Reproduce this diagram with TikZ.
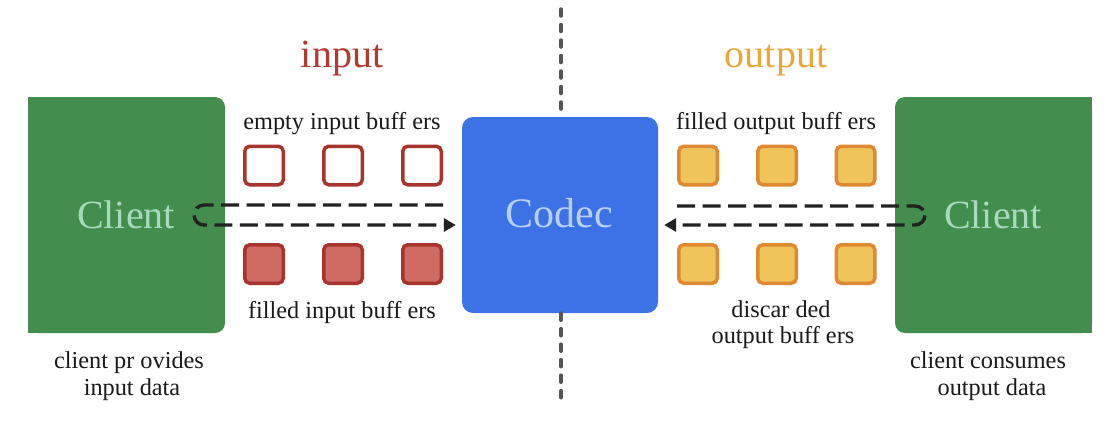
\documentclass[tikz,border=0pt]{standalone}
\usepackage{fontspec}
\setmainfont{Liberation Serif}
\usetikzlibrary{arrows.meta}
\definecolor{cgreen}{HTML}{438D4F}
\definecolor{cblue}{HTML}{3D71E6}
\definecolor{ctxtgreen}{HTML}{A8DABD}
\definecolor{ctxtblue}{HTML}{B9CFF8}
\definecolor{redline}{HTML}{A8352B}
\definecolor{redfill}{HTML}{D06B63}
\definecolor{orline}{HTML}{E08933}
\definecolor{orfill}{HTML}{EFC55B}
\definecolor{titlered}{HTML}{B23A30}
\definecolor{titleor}{HTML}{E9A83B}
\definecolor{flowc}{HTML}{222222}
\definecolor{divc}{HTML}{555555}
\definecolor{txt}{HTML}{1A1A1A}
\begin{document}
\begin{tikzpicture}[x=1pt,y=-1pt,
  bigbox/.style={minimum width=197pt,minimum height=236pt,inner sep=0pt,fill=cgreen,rounded corners=10pt},
  clienttxt/.style={text=ctxtgreen,font=\fontsize{40}{44}\selectfont,anchor=base},
  codecbox/.style={minimum width=196pt,minimum height=196pt,inner sep=0pt,fill=cblue,rounded corners=11pt},
  buf/.style={minimum size=38.5pt,inner sep=0pt,line width=3.5pt,rounded corners=5pt},
  inempty/.style={buf,draw=redline,fill=white},
  infull/.style={buf,draw=redline,fill=redfill},
  outbuf/.style={buf,draw=orline,fill=orfill},
  lbl/.style={text=txt,font=\fontsize{24.3}{26}\selectfont,anchor=base,inner sep=0pt},
  title/.style={font=\fontsize{40}{44}\selectfont,anchor=base,inner sep=0pt},
  flow/.style={draw=flowc,line width=3.4pt,dash pattern=on 18pt off 7.5pt,rounded corners=10pt,
    -{Triangle[length=12pt,width=13pt]}},
  divider/.style={draw=divc,line width=3.5pt,line cap=round,dash pattern=on 7pt off 8.5pt}]
\useasboundingbox (0,0) rectangle (1108,426);
\fill[white] (0,0) rectangle (1108,426);

% dividers
\node[codecbox] (codec) at (560,215) {};
\coordinate (dtop) at (561,9);
\coordinate (dbot) at (561,403);
\draw[divider] (dtop) -- (codec.north -| dtop);
\draw[divider] (codec.south -| dbot) -- (dbot);
\node[text=ctxtblue,font=\fontsize{42}{46}\selectfont,anchor=base] (codectxt) at (559,227) {Codec};

% clients
\node[bigbox] (lclient) at (126.5,215) {};
\fill[cgreen] (lclient.north west) rectangle ([xshift=-20pt]lclient.south);
\node[clienttxt] (lclienttxt) at (126,228) {Client};
\node[bigbox] (rclient) at (993.5,215) {};
\fill[cgreen] ([xshift=20pt]rclient.north) rectangle (rclient.south east);
\node[clienttxt] (rclienttxt) at (993,228) {Client};

% titles
\node[title,text=titlered] (tin) at (342,67) {input};
\node[title,text=titleor] (tout) at (776,67) {output};

% input buffers
\node[inempty] (ie1) at (264,165.5) {};
\node[inempty] (ie2) at (343,165.5) {};
\node[inempty] (ie3) at (422,165.5) {};
\node[infull] (if1) at (264,264) {};
\node[infull] (if2) at (343,264) {};
\node[infull] (if3) at (422,264) {};
% output buffers
\node[outbuf] (of1) at (698,165.5) {};
\node[outbuf] (of2) at (777,165.5) {};
\node[outbuf] (of3) at (855.5,165.5) {};
\node[outbuf] (od1) at (698,264) {};
\node[outbuf] (od2) at (777,264) {};
\node[outbuf] (od3) at (855.5,264) {};

% labels
\node[lbl] (l1) at (342,129) {empty input buff ers};
\node[lbl] (l2) at (342,318) {filled input buff ers};
\node[lbl] (l3) at (776,129) {filled output buff ers};
\node[lbl] (l4) at (781,317) {discar ded};
\node[lbl] (l5) at (783,343) {output buff ers};
\node[lbl] (l6) at (129,368) {client pr ovides};
\node[lbl] (l7) at (132,395) {input data};
\node[lbl] (l8) at (988,368) {client consumes};
\node[lbl] (l9) at (992,395) {output data};

% flows
\coordinate (lstart) at (443,205);
\coordinate (lturn) at (194,205);
\draw[flow,shorten >=6pt] (lstart) -- (lturn) -- ++(0,20) -- (codec.west |- 0,225);
\coordinate (rstart) at (677,206);
\coordinate (rturn) at (925,206);
\draw[flow,shorten >=6pt] (rstart) -- (rturn) -- ++(0,19) -- (codec.east |- 0,225);
\end{tikzpicture}
\end{document}
